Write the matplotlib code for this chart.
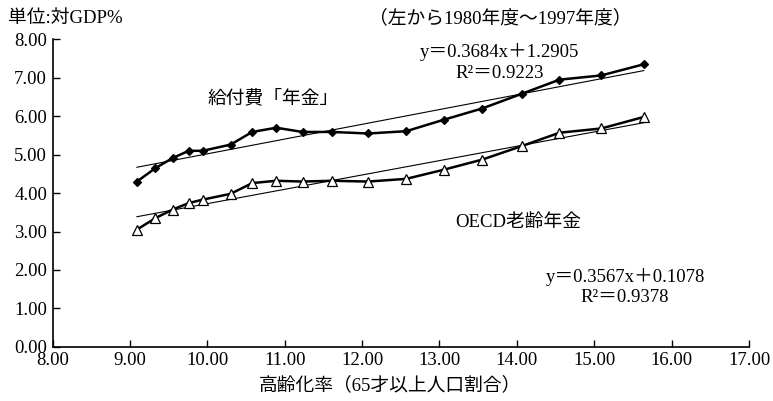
import numpy as np
import matplotlib as mpl
mpl.use('Agg')
from matplotlib import pyplot as plt

# font: latin in serif, japanese falls back to Noto CJK
FONTS = ['Liberation Serif', 'Noto Sans CJK JP']
plt.rcParams['font.family'] = FONTS
plt.rcParams['font.size'] = 13.5

# aging rate (x) and pension spending (% of GDP), 1980-1997
aging_rate = [9.09, 9.33, 9.55, 9.76, 9.94, 10.30, 10.58, 10.89, 11.23,
              11.61, 12.08, 12.57, 13.06, 13.55, 14.06, 14.55, 15.09, 15.64]
benefit_pension = [4.30, 4.65, 4.91, 5.10, 5.10, 5.26, 5.59, 5.70, 5.59,
                   5.59, 5.55, 5.61, 5.91, 6.20, 6.58, 6.95, 7.06, 7.35]
oecd_pension = [3.05, 3.35, 3.57, 3.74, 3.83, 3.98, 4.26, 4.32, 4.30,
                4.32, 4.30, 4.37, 4.61, 4.87, 5.22, 5.57, 5.68, 5.98]

xticks = np.arange(8, 18, 1)
yticks = np.arange(0, 9, 1)

fig = plt.figure(figsize=(7.73, 4.01), dpi=100)
ax = fig.add_axes([0.068, 0.135, 0.901, 0.767])

x = np.array(aging_rate)
for ys, mk, fc, ms in [(benefit_pension, 'D', 'black', 4.5),
                       (oecd_pension, '^', 'white', 6.5)]:
    ys = np.array(ys)
    # linear trend line (excel style)
    k, b = np.polyfit(x, ys, 1)
    xx = np.array([x.min(), x.max()])
    ax.plot(xx, k*xx + b, color='black', lw=0.8)
    ax.plot(x, ys, color='black', lw=1.8, marker=mk, markersize=ms,
            markerfacecolor=fc, markeredgecolor='black', markeredgewidth=0.9)

ax.set_xlim(8, 17)
ax.set_ylim(0, 8)
ax.set_xticks(xticks)
ax.set_yticks(yticks)
ax.xaxis.set_major_formatter(mpl.ticker.FormatStrFormatter('%.2f'))
ax.yaxis.set_major_formatter(mpl.ticker.FormatStrFormatter('%.2f'))
ax.tick_params(direction='in', length=5, width=1, pad=4)
ax.spines['top'].set_visible(False)
ax.spines['right'].set_visible(False)
ax.spines['left'].set_linewidth(1.2)
ax.spines['bottom'].set_linewidth(1.2)

# texts
fig.text(8/773, 1 - 18/401, '単位:対GDP%', ha='left', va='center')
fig.text(500/773, 1 - 18/401, '（左から1980年度～1997年度）', ha='center', va='center')
fig.text(500/773, 1 - 52/401, 'y＝0.3684x＋1.2905', ha='center', va='center')
fig.text(500/773, 1 - 73/401, 'R²＝0.9223', ha='center', va='center')
fig.text(273/773, 1 - 98/401, '給付費「年金」', ha='center', va='center')
fig.text(518/773, 1 - 223/401, 'OECD老齢年金', ha='center', va='center')
fig.text(626/773, 1 - 277/401, 'y＝0.3567x＋0.1078', ha='center', va='center')
fig.text(625/773, 1 - 297/401, 'R²＝0.9378', ha='center', va='center')
fig.text(390/773, 1 - 385/401, '高齢化率（65才以上人口割合）', ha='center', va='center')

fig.savefig('out.png', dpi=100)
plt.close('all')
